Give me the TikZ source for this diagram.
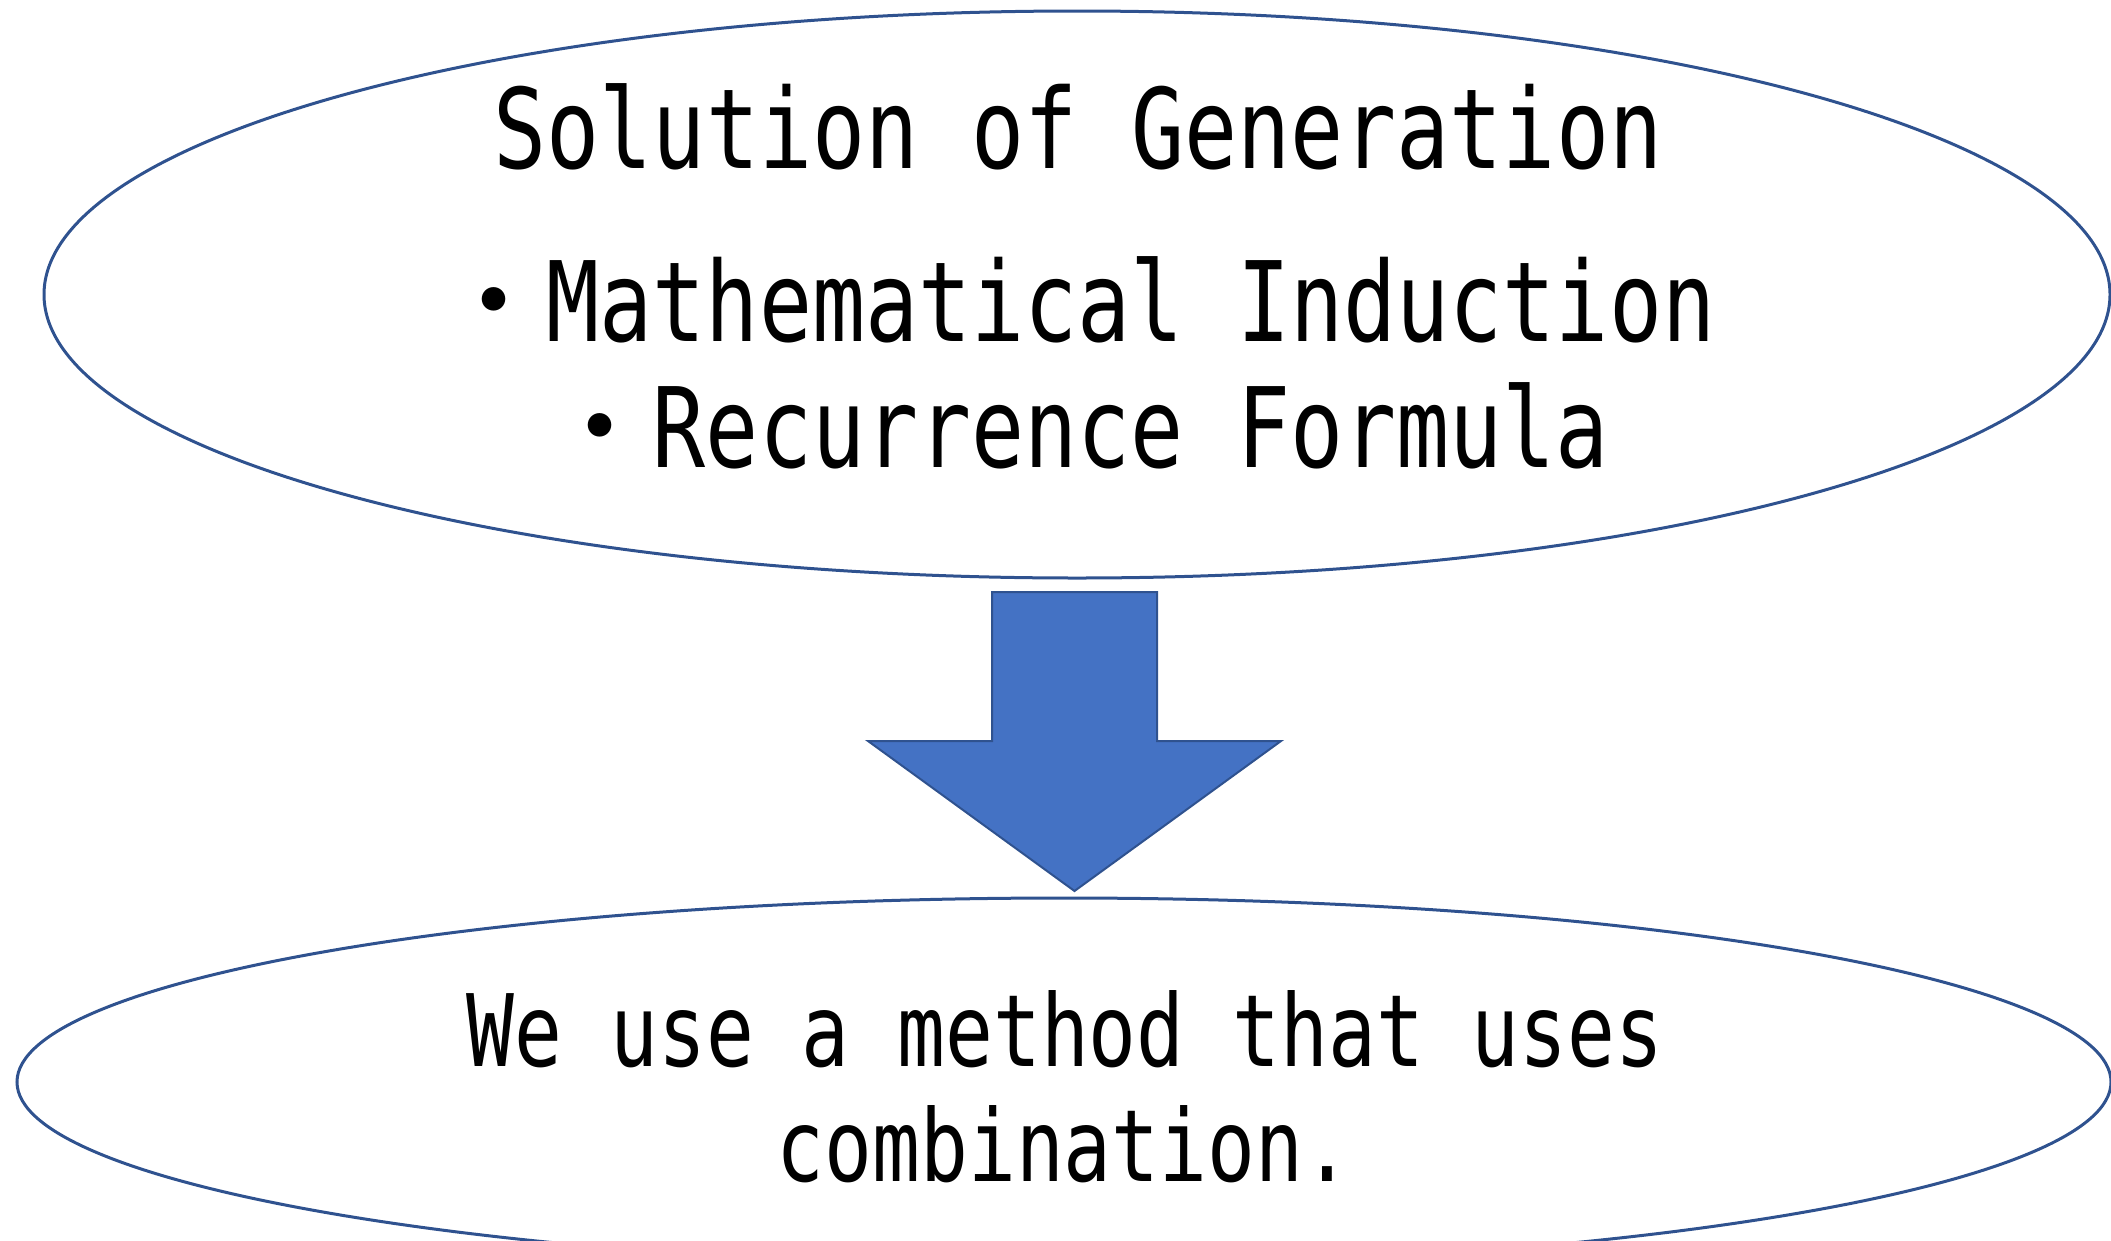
\documentclass[tikz,border=0pt]{standalone}
\usepackage{fontspec}
\usetikzlibrary{shapes.geometric}
\newfontfamily\gothmono[FakeStretch=0.795]{DejaVu Sans Mono}
\newfontfamily\cjkjp{Noto Sans CJK JP}
\definecolor{edgeblue}{HTML}{2F528F}
\definecolor{fillblue}{HTML}{4472C4}
\newcommand\mydot{\makebox[106pt]{\cjkjp ・}}
\begin{document}
\begin{tikzpicture}[x=1pt,y=-1pt,
  oval/.style={draw=edgeblue, line width=3pt, ellipse, inner sep=0pt},
  bigtext/.style={font=\fontsize{111}{120}\selectfont\gothmono, anchor=base, inner sep=0pt},
  smalltext/.style={font=\fontsize{100}{110}\selectfont\gothmono, anchor=base, inner sep=0pt},
  bigarrow/.style={fill=fillblue, draw=edgeblue, line width=2pt, line join=miter},
]
\useasboundingbox (0,0) rectangle (2111,1240);
\clip (0,0) rectangle (2111,1240);
\node[oval, minimum width=2066pt, minimum height=567pt] (topoval) at (1077,294.5) {};
\node[oval, minimum width=2094pt, minimum height=368pt] (botoval) at (1064,1082) {};
\node[bigtext] (t1) at (1078,168) {Solution of Generation};
\node[bigtext] (t2) at (1078,341) {\mydot Mathematical Induction};
\node[bigtext] (t3) at (1078,467) {\mydot Recurrence Formula};
\node[smalltext] (b1) at (1065,1066) {We use a method that uses};
\node[smalltext] (b2) at (1064,1181) {combination.};
\coordinate (tail) at (1074.5,592);
\coordinate (tip) at (1074.5,891);
\path[bigarrow] ([xshift=-82.5pt]tail) -- ([xshift=82.5pt]tail) -- ([xshift=82.5pt,yshift=-149pt]tail)
  -- ([xshift=206.5pt,yshift=-149pt]tail) -- (tip) -- ([xshift=-206.5pt,yshift=-149pt]tail)
  -- ([xshift=-82.5pt,yshift=-149pt]tail) -- cycle;
\end{tikzpicture}
\end{document}
